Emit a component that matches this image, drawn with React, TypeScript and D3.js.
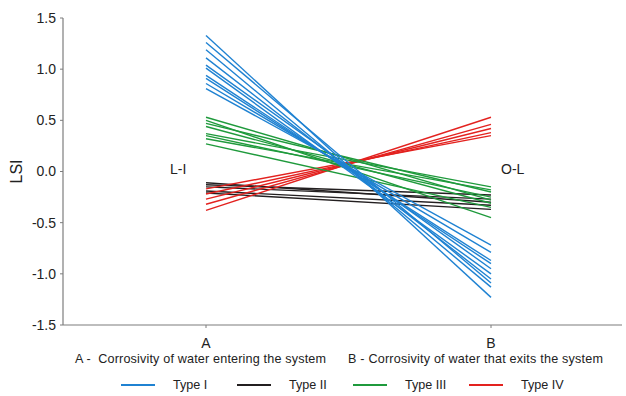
import React from "react";
import * as d3 from "d3";

const points = ["A", "B"];
const yTicks = [1.5, 1.0, 0.5, 0.0, -0.5, -1.0, -1.5];

const typeIStart = [1.33, 1.26, 1.19, 1.11, 1.04, 1.01, 0.94, 0.91, 0.86, 0.81];
const typeIEnd = [-1.23, -1.09, -1.13, -1.05, -0.95, -1.0, -0.9, -0.87, -0.79, -0.72];

const typeIIStart = [-0.11, -0.13, -0.15, -0.19, -0.21];
const typeIIEnd = [-0.3, -0.23, -0.27, -0.33, -0.37];

const typeIIIStart = [0.53, 0.5, 0.47, 0.44, 0.37, 0.35, 0.32, 0.27];
const typeIIIEnd = [-0.28, -0.45, -0.2, -0.31, -0.15, -0.25, -0.18, -0.35];

const typeIVStart = [-0.17, -0.22, -0.27, -0.32, -0.38];
const typeIVEnd = [0.35, 0.38, 0.42, 0.46, 0.53];

const series = [
  { name: "Type I", color: "#1f82d2", start: typeIStart, end: typeIEnd },
  { name: "Type II", color: "#231f20", start: typeIIStart, end: typeIIEnd },
  { name: "Type III", color: "#1f9a3c", start: typeIIIStart, end: typeIIIEnd },
  { name: "Type IV", color: "#e3221f", start: typeIVStart, end: typeIVEnd },
];

const drawOrder = [1, 3, 2, 0];

export default function App() {
  const W = 626;
  const H = 396;
  const x = d3.scalePoint<string>().domain(points).range([206, 491]);
  const y = d3.scaleLinear().domain([-1.5, 1.5]).range([325, 18]);
  const line = d3
    .line<[string, number]>()
    .x((d) => x(d[0]) as number)
    .y((d) => y(d[1]));
  const axisColor = "#7d7d7d";
  const font = "'Liberation Sans', Arial, sans-serif";
  const legendX = [121, 237, 353, 469];
  const fmt = (t: number) => d3.format(".1f")(t).replace("\u2212", "-");

  return (
    <svg
      width={W}
      height={H}
      style={{ position: "absolute", left: 0, top: 0, background: "#fff" }}
      fontFamily={font}
    >
      {/* y axis */}
      <line x1={63} x2={63} y1={y(1.5)} y2={y(-1.5)} stroke={axisColor} strokeWidth={1.2} />
      {yTicks.map((t) => (
        <g key={t}>
          <line x1={60} x2={63} y1={y(t)} y2={y(t)} stroke={axisColor} strokeWidth={1} />
          <text x={56} y={y(t)} dy="0.35em" textAnchor="end" fontSize={14} fill="#222">
            {fmt(t)}
          </text>
        </g>
      ))}
      <text
        transform={`translate(22,${y(0)}) rotate(-90)`}
        textAnchor="middle"
        fontSize={16}
        fill="#222"
      >
        LSI
      </text>
      {/* x axis */}
      <line x1={63} x2={622} y1={y(-1.5)} y2={y(-1.5)} stroke={axisColor} strokeWidth={1.2} />
      {points.map((p) => (
        <g key={p}>
          <line x1={x(p)} x2={x(p)} y1={y(-1.5)} y2={y(-1.5) + 3} stroke={axisColor} strokeWidth={1} />
          <text x={x(p)} y={348} textAnchor="middle" fontSize={14} fill="#222">
            {p}
          </text>
        </g>
      ))}
      <text x={75} y={363} fontSize={12.6} fill="#222" xmlSpace="preserve" textLength={251} lengthAdjust="spacing">
        {"A -  Corrosivity of water entering the system"}
      </text>
      <text x={348} y={363} fontSize={12.6} fill="#222" textLength={255} lengthAdjust="spacing">
        B - Corrosivity of water that exits the system
      </text>
      {/* lines */}
      {drawOrder.map((si) => {
        const s = series[si];
        return (
          <g key={s.name}>
            {s.start.map((v, i) => (
              <path
                key={i}
                d={line([
                  ["A", v],
                  ["B", s.end[i]],
                ]) as string}
                fill="none"
                stroke={s.color}
                strokeWidth={1.4}
              />
            ))}
          </g>
        );
      })}
      <text x={170} y={174} fontSize={14} fill="#222">
        L-I
      </text>
      <text x={501} y={174} fontSize={14} fill="#222">
        O-L
      </text>
      {/* legend */}
      {series.map((s, i) => (
        <g key={s.name}>
          <line x1={legendX[i]} x2={legendX[i] + 34} y1={385} y2={385} stroke={s.color} strokeWidth={2} />
          <text x={legendX[i] + 52} y={385} dy="0.35em" fontSize={12.6} fill="#222">
            {s.name}
          </text>
        </g>
      ))}
    </svg>
  );
}
